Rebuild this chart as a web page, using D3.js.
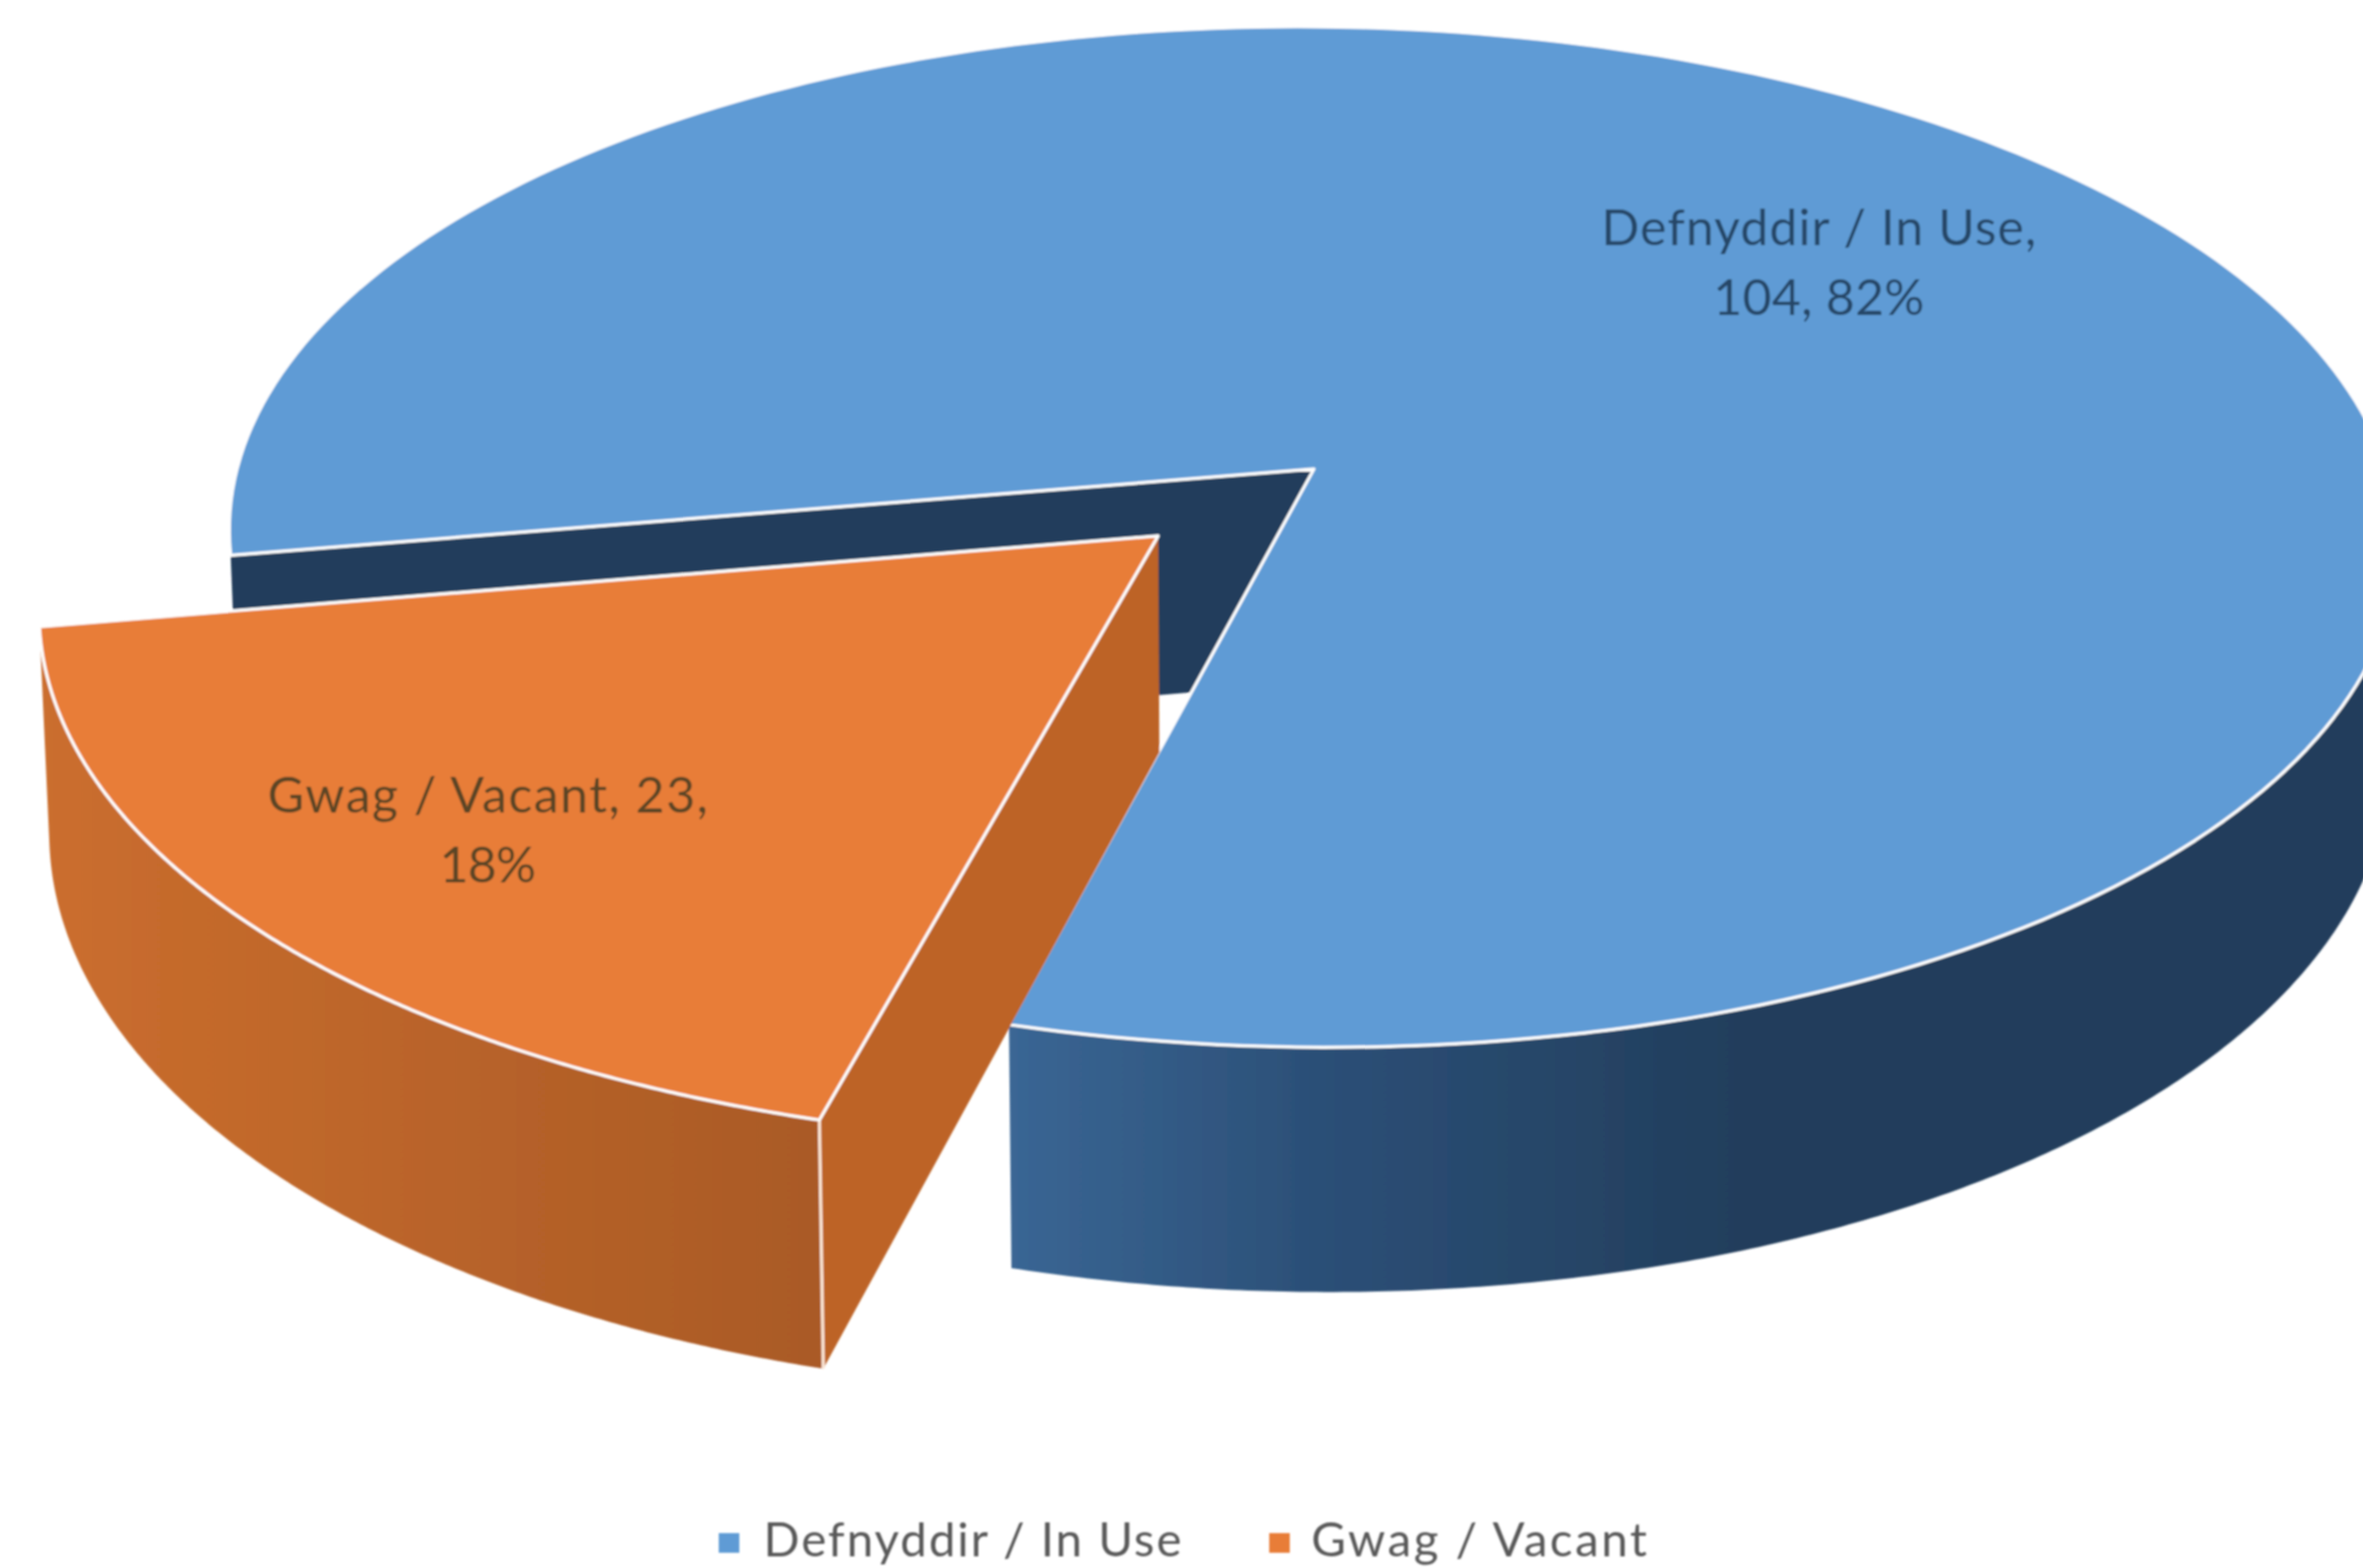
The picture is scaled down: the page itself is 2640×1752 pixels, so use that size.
<!DOCTYPE html>
<html>
<head>
<meta charset="utf-8">
<script src="https://cdnjs.cloudflare.com/ajax/libs/d3/7.8.5/d3.min.js"></script>
<style>html,body{margin:0;padding:0;background:#fff}svg{display:block}</style>
</head>
<body>
<div id="chart"></div>
<script>
const categories = ["Defnyddir / In Use", "Gwag / Vacant"];
const values = [104, 23];
const topColors = ["#5e9bd5", "#e87d37"];
const labelLines = [
  ["Defnyddir / In Use,", "104, 82%"],
  ["Gwag / Vacant, 23,", "18%"]
];

const W = 2640, H = 1752;
const deg = Math.PI / 180;
const svg = d3.select("#chart").append("svg").attr("width", W).attr("height", H);
svg.append("rect").attr("width", W).attr("height", H).attr("fill", "#fff");

// The source is a soft, resampled picture: a slight blur reproduces its edges
const defs = svg.append("defs");
defs.append("filter").attr("id", "soft")
  .attr("filterUnits", "userSpaceOnUse")
  .attr("x", 0).attr("y", 0).attr("width", W).attr("height", H)
  .append("feGaussianBlur").attr("stdDeviation", 1);
const root = svg.append("g").attr("filter", "url(#soft)");

// Perspective projection of the pie's disk on to the picture, with a slight tilt
const apexX = 1468, apexY = 524, scaleU = 1201, scaleV = 560, persp = 0.1333, tilt = 0.0066;
const project = (u, v) => {
  const w = 1 - persp * v;
  const x = apexX + scaleU * u / w;
  return [x, apexY + scaleV * v / w + tilt * (x - apexX)];
};
const drop = ([x, y]) => [x + (apexX - x) * 0.008, y + 242 + 0.055 * (y - 598)];

const arcs = d3.pie().sort(null).startAngle(259.5 * deg).endAngle(619.5 * deg)(values);
const explode = [0, 0.195];
const radius = [1, 1.01];

const centreOf = i => {
  const mid = (arcs[i].startAngle + arcs[i].endAngle) / 2;
  return [explode[i] * Math.sin(mid), -explode[i] * Math.cos(mid)];
};
const rimPoint = (i, a) => {
  const [cu, cv] = centreOf(i);
  return project(cu + radius[i] * Math.sin(a), cv - radius[i] * Math.cos(a));
};
const sample = (i, a0, a1) =>
  d3.range(0, 241).map(k => rimPoint(i, a0 + (a1 - a0) * k / 240));

const line = d3.line();
const closed = pts => line(pts) + "Z";

// Gradients
function grad(id, x1, x2, stops) {
  const g = defs.append("linearGradient").attr("id", id)
    .attr("gradientUnits", "userSpaceOnUse")
    .attr("x1", x1).attr("x2", x2).attr("y1", 0).attr("y2", 0);
  stops.forEach(([o, c]) => g.append("stop").attr("offset", o).attr("stop-color", c));
}
grad("blueRim", 1131, 1950, [[0, "#3a6694"], [0.4, "#2c5078"], [1, "#223e5c"]]);
grad("orangeRim", 50, 914, [[0, "#cb6e2e"], [0.6, "#b66229"], [1, "#aa5a27"]]);

const blue = arcs[0], orange = arcs[1];
const blueApex = project(...centreOf(0));
const orangeApex = project(...centreOf(1));

// Blue: inner wall visible through the gap
const e1Top = rimPoint(0, blue.startAngle);
root.append("path")
  .attr("d", closed([blueApex, e1Top, drop(e1Top), drop(blueApex)]))
  .attr("fill", "#213d5c");

// Blue: outer rim
const blueFront = sample(0, 458 * deg, blue.endAngle);
root.append("path")
  .attr("d", closed(blueFront.concat(blueFront.map(drop).reverse())))
  .attr("fill", "url(#blueRim)");

// Blue: top surface
root.append("path")
  .attr("d", closed([blueApex].concat(sample(0, blue.startAngle, blue.endAngle))))
  .attr("fill", topColors[0])
  .attr("stroke", "#fff").attr("stroke-width", 3.5).attr("stroke-linejoin", "round");

// Orange: outer rim
const orangeFront = sample(1, orange.startAngle, orange.endAngle);
root.append("path")
  .attr("d", closed(orangeFront.concat(orangeFront.map(drop).reverse())))
  .attr("fill", "url(#orangeRim)");

// Orange: cut wall
const e2Top = rimPoint(1, orange.startAngle);
root.append("path")
  .attr("d", closed([orangeApex, e2Top, drop(e2Top), drop(orangeApex)]))
  .attr("fill", "#bd6427");

// Orange: corner highlight
root.append("line")
  .attr("x1", e2Top[0]).attr("y1", e2Top[1])
  .attr("x2", drop(e2Top)[0]).attr("y2", drop(e2Top)[1])
  .attr("stroke", "#fbe6d6").attr("stroke-width", 3.5);

// Orange: top surface
root.append("path")
  .attr("d", closed([orangeApex].concat(orangeFront)))
  .attr("fill", topColors[1])
  .attr("stroke", "#fff").attr("stroke-width", 3.5).attr("stroke-linejoin", "round");

// Data labels
const font = "Lato, 'Open Sans', sans-serif";
const labelSpec = [
  { x: 2032, y: [274, 352], fill: "#274768", widths: [486, 236] },
  { x: 545, y: [908, 986], fill: "#5a4526", widths: [492, 108] }
];
labelLines.forEach((lines, i) => lines.forEach((t, j) => {
  root.append("text")
    .attr("x", labelSpec[i].x).attr("y", labelSpec[i].y[j])
    .attr("text-anchor", "middle")
    .attr("font-family", font).attr("font-size", 56)
    .attr("textLength", labelSpec[i].widths[j]).attr("lengthAdjust", "spacing")
    .attr("fill", labelSpec[i].fill)
    .text(t);
}));

// Legend
const legendX = [803, 1418], legendTextX = [853, 1465], legendWidths = [467, 375];
categories.forEach((c, i) => {
  root.append("rect")
    .attr("x", legendX[i]).attr("y", 1713).attr("width", 23).attr("height", 22)
    .attr("fill", topColors[i]);
  root.append("text")
    .attr("x", legendTextX[i]).attr("y", 1739)
    .attr("font-family", font).attr("font-size", 53)
    .attr("textLength", legendWidths[i]).attr("lengthAdjust", "spacing")
    .attr("fill", "#595959")
    .text(c);
});
</script>
</body>
</html>
